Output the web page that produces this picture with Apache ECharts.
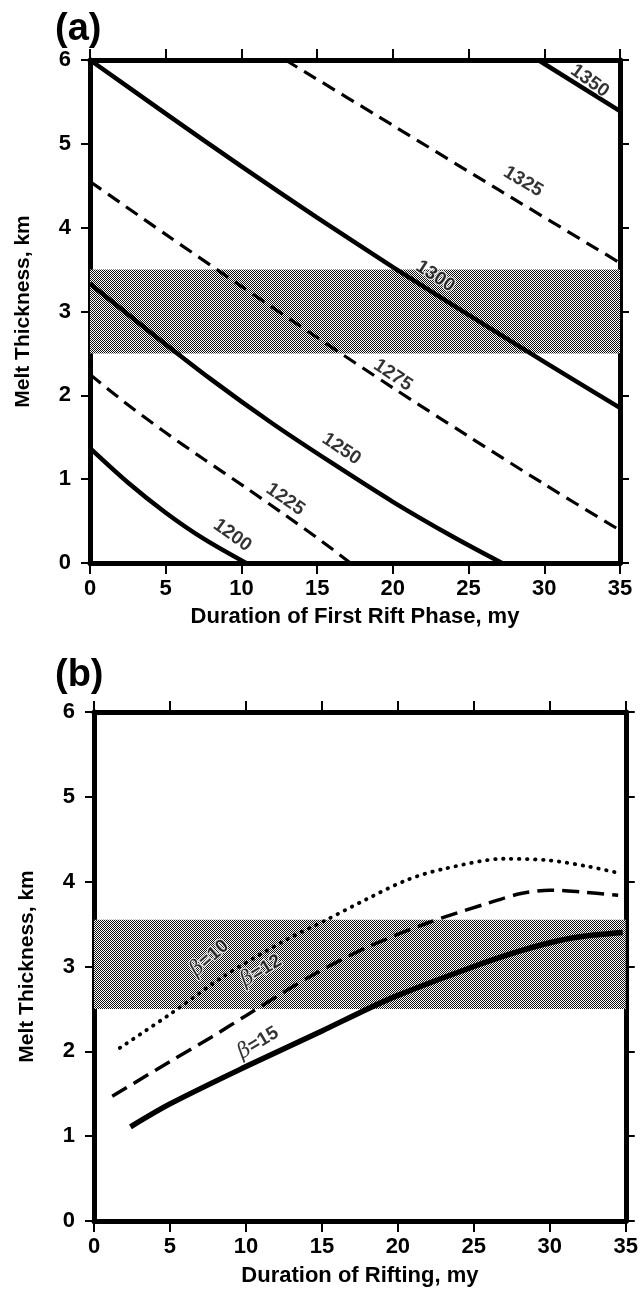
<!DOCTYPE html>
<html><head><meta charset="utf-8">
<script src="https://cdn.jsdelivr.net/npm/echarts@6/dist/echarts.min.js"></script>
<style>html,body{margin:0;padding:0;background:#fff}#c{width:641px;height:1301px}</style>
</head><body><div id="c"></div><script>
// ---------- data ----------
const xTickValues = [0, 5, 10, 15, 20, 25, 30, 35];
const yTickValues = [0, 1, 2, 3, 4, 5, 6];

// Panel (a): contour lines (temperature levels)
const contourLevels = ['1200', '1225', '1250', '1275', '1300', '1325', '1350'];
const c1200X = [0, 2.5, 5, 7.5, 10.3];
const c1200Y = [1.37, 0.96, 0.60, 0.29, 0];
const c1225X = [0, 2.2, 4.8, 7.5, 10.2, 12.9, 15.3, 17.2];
const c1225Y = [2.25, 1.93, 1.58, 1.24, 0.91, 0.57, 0.26, 0];
const c1250X = [0, 4, 8, 12, 16, 20, 24, 27.2];
const c1250Y = [3.33, 2.75, 2.19, 1.67, 1.19, 0.73, 0.31, 0];
const c1275X = [0, 5, 10, 15, 20, 25, 30, 35];
const c1275Y = [4.55, 3.92, 3.30, 2.69, 2.09, 1.51, 0.94, 0.39];
const c1300X = [0, 5, 10, 15, 20, 25, 30, 35];
const c1300Y = [6, 5.36, 4.73, 4.12, 3.53, 2.96, 2.40, 1.85];
const c1325X = [12.9, 20, 27, 35];
const c1325Y = [6, 5.22, 4.45, 3.58];
const c1350X = [29.6, 35];
const c1350Y = [6, 5.39];
// contour label anchors
const contourLabelX = [9.4, 12.9, 16.6, 20.0, 22.8, 28.6, 33.0];
const contourLabelY = [0.33, 0.76, 1.36, 2.24, 3.42, 4.55, 5.75];
const contourLabelAngle = [-36, -35, -34, -34, -33, -31, -36];
const bandA = [2.5, 3.5];

// Panel (b): melt thickness vs duration of rifting for three beta values
const betaNames = ['10', '12', '15'];
const b10X = [1.7, 5.1, 8.5, 12.6, 15.3, 17.9, 20.6, 23, 27, 30, 32.5, 34.6];
const b10Y = [2.04, 2.45, 2.88, 3.31, 3.55, 3.79, 4.02, 4.15, 4.27, 4.25, 4.18, 4.1];
const b12X = [1.2, 5, 7.75, 10, 14.2, 17.9, 21.9, 26, 28.1, 30, 32, 34.5];
const b12Y = [1.47, 1.88, 2.17, 2.42, 2.88, 3.22, 3.51, 3.75, 3.86, 3.90, 3.88, 3.84];
const b15X = [2.4, 5, 10, 15, 18, 20, 25, 28, 30, 32, 34.8];
const b15Y = [1.11, 1.38, 1.82, 2.24, 2.5, 2.66, 3.0, 3.18, 3.28, 3.35, 3.4];
const betaLabelX = [7.6, 11.0, 10.8];
const betaLabelY = [3.1, 2.95, 2.1];
const betaLabelAngle = [41, 31, 31];
const bandB = [2.5, 3.55];

// ---------- helpers ----------
const zip = (xs, ys) => xs.map((x, i) => [x, ys[i]]);
const FONT = 'Liberation Sans';

function stipple() {
  const c = document.createElement('canvas');
  c.width = 4; c.height = 4;
  const g = c.getContext('2d');
  g.fillStyle = '#ffffff'; g.fillRect(0, 0, 4, 4);
  g.fillStyle = '#111111';
  [[0,0],[2,0],[1,1],[3,1],[0,2],[2,2],[1,3],[3,3]].forEach(p => g.fillRect(p[0], p[1], 1, 1));
  return c;
}
const bandFill = { image: stipple(), repeat: 'repeat' };

function xAxis(grid, pos, show, name, gap) {
  return {
    type: 'value', gridIndex: grid, position: pos, min: xTickValues[0], max: xTickValues[xTickValues.length - 1], interval: 5,
    axisLine: { show: true, onZero: false, lineStyle: { color: '#000', width: 5 } },
    axisTick: { show: true, length: 11, lineStyle: { color: '#000', width: 2 } },
    axisLabel: { show: show, margin: 15, color: '#000', fontSize: 22, fontWeight: 'bold', fontFamily: FONT },
    splitLine: { show: false },
    name: name || '', nameLocation: 'middle', nameGap: gap || 0,
    nameTextStyle: { color: '#000', fontSize: 22, fontWeight: 'bold', fontFamily: FONT }
  };
}
function yAxis(grid, pos, show, name) {
  return {
    type: 'value', gridIndex: grid, position: pos, min: yTickValues[0], max: yTickValues[yTickValues.length - 1], interval: 1,
    axisLine: { show: true, onZero: false, lineStyle: { color: '#000', width: 5 } },
    axisTick: { show: true, length: 9, lineStyle: { color: '#000', width: 2 } },
    axisLabel: { show: show, margin: 19, color: '#000', fontSize: 22, fontWeight: 'bold', fontFamily: FONT },
    splitLine: { show: false },
    name: name || '', nameLocation: 'middle', nameGap: 56,
    nameTextStyle: { color: '#000', fontSize: 21, fontWeight: 'bold', fontFamily: FONT }
  };
}

const contourX = [c1200X, c1225X, c1250X, c1275X, c1300X, c1325X, c1350X];
const contourY = [c1200Y, c1225Y, c1250Y, c1275Y, c1300Y, c1325Y, c1350Y];

const series = [];
contourLevels.forEach((lev, i) => {
  const dashed = i % 2 === 1;
  const s = {
    type: 'line', name: lev, xAxisIndex: 0, yAxisIndex: 0, z: 3,
    data: zip(contourX[i], contourY[i]), smooth: 0.3, symbol: 'none', silent: true,
    lineStyle: dashed ? { color: '#000', width: 3.2, type: [14, 8] } : { color: '#000', width: 4.5 }
  };
  if (i === 0) {
    s.markArea = { silent: true, z: 1, itemStyle: { color: bandFill }, data: [[{ yAxis: bandA[0] }, { yAxis: bandA[1] }]] };
  }
  series.push(s);
});
series.push({
  type: 'scatter', xAxisIndex: 0, yAxisIndex: 0, symbolSize: 0, z: 5, silent: true,
  data: contourLevels.map((lev, i) => ({
    name: lev, value: [contourLabelX[i], contourLabelY[i]],
    label: { rotate: contourLabelAngle[i] }
  })),
  label: { show: true, position: 'inside', formatter: p => p.name, color: '#000', fontSize: 19, fontWeight: 'bold', fontFamily: FONT,
    textBorderColor: '#fff', textBorderWidth: 2 }
});

const betaX = [b10X, b12X, b15X];
const betaY = [b10Y, b12Y, b15Y];
const betaStyles = [
  { color: '#000', width: 3.8, type: [0.5, 7.5], cap: 'round' },
  { color: '#000', width: 3.5, type: [17, 8] },
  { color: '#000', width: 5.5 }
];
betaNames.forEach((b, i) => {
  const s = {
    type: 'line', name: 'β=' + b, xAxisIndex: 2, yAxisIndex: 2, z: 3,
    data: zip(betaX[i], betaY[i]), smooth: 0.3, symbol: 'none', silent: true,
    lineStyle: betaStyles[i]
  };
  if (i === 0) {
    s.markArea = { silent: true, z: 1, itemStyle: { color: bandFill }, data: [[{ yAxis: bandB[0] }, { yAxis: bandB[1] }]] };
  }
  series.push(s);
});
series.push({
  type: 'scatter', xAxisIndex: 2, yAxisIndex: 2, symbolSize: 0, z: 5, silent: true,
  data: betaNames.map((b, i) => ({
    name: b, value: [betaLabelX[i], betaLabelY[i]],
    label: { rotate: betaLabelAngle[i] }
  })),
  label: {
    show: true, position: 'inside', formatter: p => '{g|β}=' + p.name,
    color: '#000', fontSize: 19, fontWeight: 'bold', fontFamily: FONT,
    textBorderColor: '#fff', textBorderWidth: 2,
    rich: { g: { fontFamily: 'DejaVu Serif', fontStyle: 'italic', fontWeight: 'normal', fontSize: 21, color: '#000', textBorderColor: '#fff', textBorderWidth: 2 } }
  }
});

const option = {
  backgroundColor: '#fff',
  animation: false,
  title: [
    { text: '(a)', left: 50, top: 6, textStyle: { fontSize: 38, fontWeight: 'bold', fontFamily: FONT, color: '#000' } },
    { text: '(b)', left: 50, top: 652, textStyle: { fontSize: 38, fontWeight: 'bold', fontFamily: FONT, color: '#000' } }
  ],
  grid: [
    { left: 90, top: 60, width: 530, height: 503 },
    { left: 94, top: 712, width: 534, height: 509 }
  ],
  xAxis: [
    xAxis(0, 'bottom', true, 'Duration of First Rift Phase, my', 43),
    xAxis(0, 'top', false),
    xAxis(1, 'bottom', true, 'Duration of Rifting, my', 44),
    xAxis(1, 'top', false)
  ],
  yAxis: [
    yAxis(0, 'left', true, 'Melt Thickness, km'),
    yAxis(0, 'right', false),
    yAxis(1, 'left', true, 'Melt Thickness, km'),
    yAxis(1, 'right', false)
  ],
  series: series
};
const chart = echarts.init(document.getElementById('c'), null, { renderer: 'canvas' });
chart.setOption(option);
</script></body></html>
